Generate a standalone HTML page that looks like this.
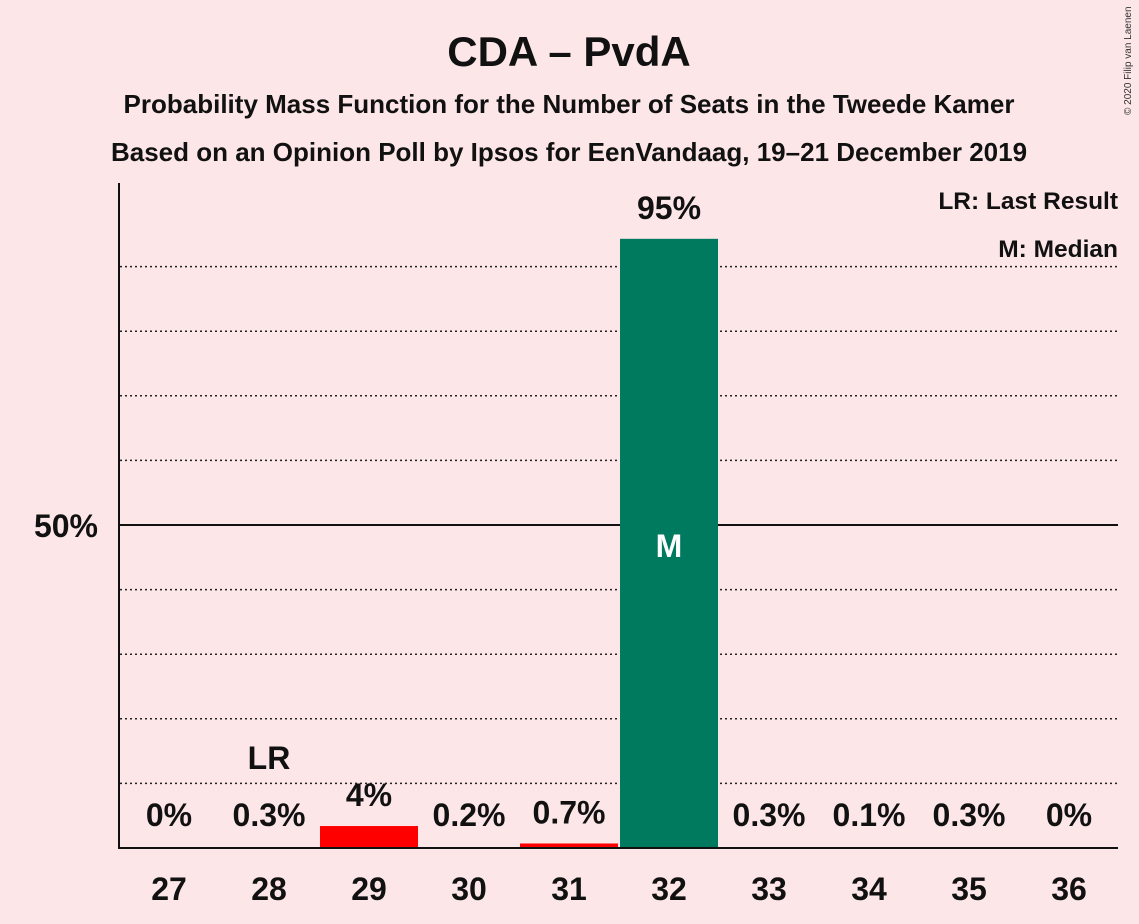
<!DOCTYPE html>
<html><head><meta charset="utf-8">
<style>
html,body{margin:0;padding:0;background:#fde6e8;}
svg{display:block;font-family:"Liberation Sans",sans-serif;}
</style></head>
<body>
<svg id="chart" width="1139" height="924">
<rect width="1139" height="924" fill="#fde6e8"/>
<text x="569" y="66" text-anchor="middle" font-size="42" font-weight="bold" fill="#111">CDA – PvdA</text>
<text x="569" y="113" text-anchor="middle" font-size="26" font-weight="bold" fill="#111">Probability Mass Function for the Number of Seats in the Tweede Kamer</text>
<text x="569" y="161" text-anchor="middle" font-size="26" font-weight="bold" fill="#111">Based on an Opinion Poll by Ipsos for EenVandaag, 19–21 December 2019</text>
<text x="1131" y="115" font-size="10" fill="#333" transform="rotate(-90 1131 115)">© 2020 Filip van Laenen</text>
<g id="grid"></g>
<g id="bars"></g>
<g id="labels"></g>
<line x1="119" y1="183" x2="119" y2="849" stroke="#111" stroke-width="2"/>
<line x1="118" y1="848" x2="1118" y2="848" stroke="#111" stroke-width="2"/>
<text x="98" y="537" text-anchor="end" font-size="32" font-weight="bold" fill="#111">50%</text>
<text x="1118" y="209" text-anchor="end" font-size="24.5" font-weight="bold" fill="#111">LR: Last Result</text>
<text x="1118" y="257" text-anchor="end" font-size="24.5" font-weight="bold" fill="#111">M: Median</text>
</svg>
<script>
const seats = [27,28,29,30,31,32,33,34,35,36];
const probs = [0,0.3,3.4,0.2,0.7,94.3,0.3,0.1,0.3,0];
const valueLabels = ["0%","0.3%","4%","0.2%","0.7%","95%","0.3%","0.1%","0.3%","0%"];
const lastResult = 28;
const median = 32;
const gridTicks = [10,20,30,40,60,70,80,90];

const NS="http://www.w3.org/2000/svg";
const y0=848, yPer=6.46, xStart=169, xStep=100, bw=98;
const yS=v=>y0-v*yPer;
const xS=i=>xStart+i*xStep;
function mk(t,a,p){const e=document.createElementNS(NS,t);for(const k in a)e.setAttribute(k,a[k]);p.appendChild(e);return e;}
const grid=document.getElementById('grid'),bars=document.getElementById('bars'),labels=document.getElementById('labels');
gridTicks.forEach(t=>{
  const l=mk('line',{x1:120,x2:1118,y1:yS(t),y2:yS(t),stroke:'#222','stroke-width':1.5,'stroke-dasharray':'2,3'},grid);
  
  
});
const m=mk('line',{x1:120,x2:1118,y1:yS(50),y2:yS(50),stroke:'#111','stroke-width':2},grid);


seats.forEach((s,i)=>{
  const v=probs[i],cx=xS(i);
  if(v>=0.5){
    const color=s<median?'#ff0000':'#007a5e';
    const r=mk('rect',{x:cx-bw/2,y:yS(v),width:bw,height:y0-yS(v),fill:color},bars);
    
    
  }
  const ly=Math.min(826,yS(v)-20);
  const t=mk('text',{x:cx,y:ly,'text-anchor':'middle','font-size':32,'font-weight':'bold',fill:'#111'},labels);
  t.textContent=valueLabels[i];
  
  
  const xt=mk('text',{x:cx,y:900,'text-anchor':'middle','font-size':32,'font-weight':'bold',fill:'#111'},labels);
  xt.textContent=s;
  
  
  if(s===lastResult){
    const lr=mk('text',{x:cx,y:769,'text-anchor':'middle','font-size':32,'font-weight':'bold',fill:'#111'},labels);
    lr.textContent='LR';
    
    
  }
  if(s===median){
    const md=mk('text',{x:cx,y:557,'text-anchor':'middle','font-size':32,'font-weight':'bold',fill:'#fff'},labels);
    md.textContent='M';
    
    
  }
});
</script>
</body></html>
